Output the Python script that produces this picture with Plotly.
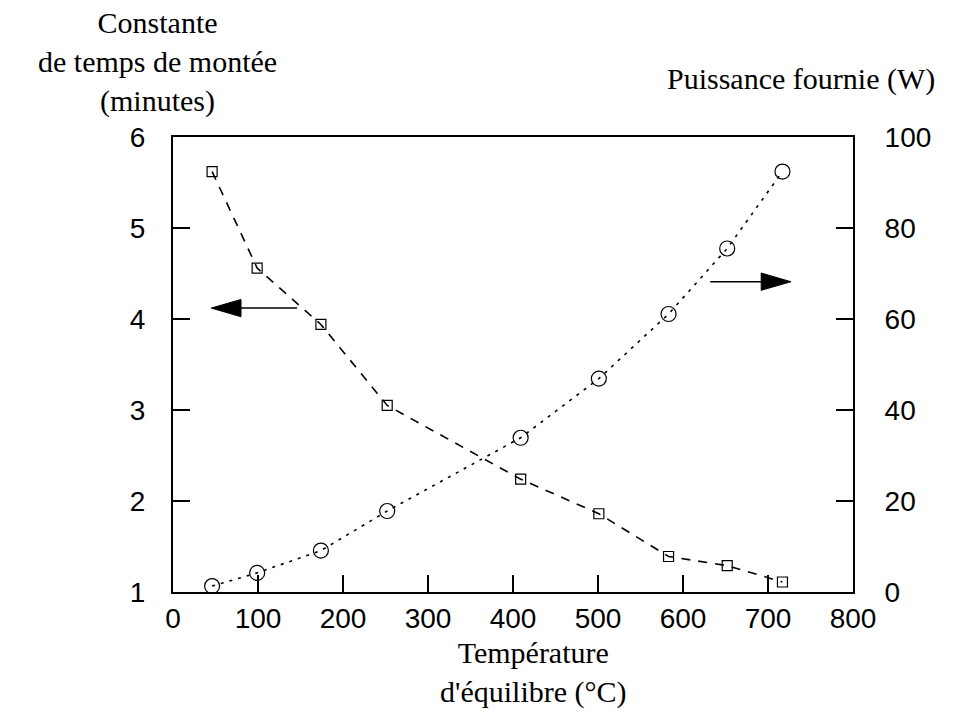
import plotly.graph_objects as go

# Equilibrium temperature (°C) of each measurement
temperature = [46, 99, 174, 252, 409, 501, 583, 652, 717]
# Rise time constant (minutes), left axis
time_constant = [5.62, 4.56, 3.94, 3.05, 2.24, 1.86, 1.39, 1.29, 1.11]
# Supplied power (W), right axis
power = [1.3, 4.2, 9.1, 17.8, 33.9, 46.9, 61.1, 75.5, 92.4]

x_ticks = [0, 100, 200, 300, 400, 500, 600, 700, 800]
left_ticks = [1, 2, 3, 4, 5, 6]
right_ticks = [0, 20, 40, 60, 80, 100]

W, H = 976, 716
L, R, T, B = 173, 123, 137, 124

SANS = "Liberation Sans, Arial, sans-serif"
SERIF = "Liberation Serif, Times New Roman, serif"


def px(xp):
    return (xp - L) / (W - L - R)


def py(yp):
    return (H - B - yp) / (H - T - B)


fig = go.Figure()

fig.add_trace(go.Scatter(
    x=temperature, y=time_constant, mode="lines+markers",
    line=dict(color="black", width=1.6, dash="9px,8px"),
    marker=dict(symbol="square-open", size=10, color="black",
                line=dict(width=1.2, color="black")),
    showlegend=False,
))
fig.add_trace(go.Scatter(
    x=temperature, y=power, mode="lines+markers", yaxis="y2",
    line=dict(color="black", width=1.6, dash="3px,6px"),
    marker=dict(symbol="circle-open", size=15, color="black",
                line=dict(width=1.2, color="black")),
    showlegend=False,
))

axis_common = dict(
    showline=True, linecolor="black", linewidth=2,
    ticks="inside", ticklen=17, tickwidth=2, tickcolor="black",
    showgrid=False, zeroline=False,
    tickfont=dict(family=SANS, size=28, color="black"),
)

fig.update_layout(
    width=W, height=H,
    margin=dict(l=L, r=R, t=T, b=B, pad=0),
    paper_bgcolor="white", plot_bgcolor="white",
    xaxis=dict(range=[0, 800], tickvals=x_ticks, mirror=True,
               ticklabelstandoff=0, **axis_common),
    yaxis=dict(range=[1, 6], tickvals=left_ticks, ticklabelstandoff=20,
               **axis_common),
    yaxis2=dict(range=[0, 100], tickvals=right_ticks, overlaying="y",
                side="right", ticklabelstandoff=24, **axis_common),
)

# Direction arrows: which curve reads on which axis
arrows = [
    # (tail x, tip x, head base x, y on left axis)
    (146, 45, 80, 4.12),
    (632, 727, 692, 4.41),
]
half_h = 0.095
for tail, tip, base, yv in arrows:
    fig.add_shape(type="line", xref="x", yref="y", x0=tail, x1=base,
                  y0=yv, y1=yv, line=dict(color="black", width=1.5))
    fig.add_shape(type="path", xref="x", yref="y",
                  path=f"M {tip},{yv} L {base},{yv + half_h} L {base},{yv - half_h} Z",
                  fillcolor="black", line=dict(color="black", width=1))

titles = [
    ("Constante<br>de temps de montée<br>(minutes)", 157, 62),
    ("Puissance fournie (W)", 801, 79),
    ("Température<br>d'équilibre (°C)", 533, 672),
]
for text, xp, yp in titles:
    fig.add_annotation(text=text, x=px(xp), y=py(yp), xref="paper", yref="paper",
                       xanchor="center", yanchor="middle", showarrow=False,
                       font=dict(family=SERIF, size=30, color="black"))

fig.write_html("out.html")
